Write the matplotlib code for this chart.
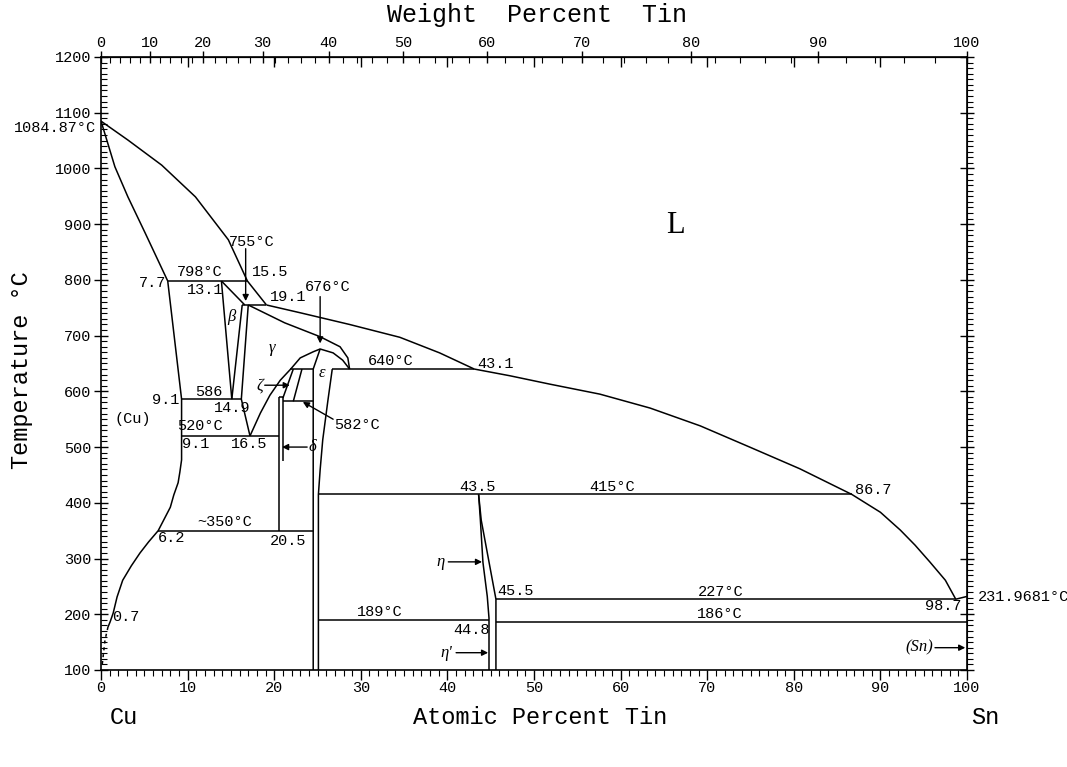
import numpy as np
import matplotlib
matplotlib.use("Agg")
import matplotlib.pyplot as plt

plt.rcParams['font.family'] = ['Liberation Mono', 'DejaVu Sans Mono', 'DejaVu Sans']

# molar masses for the weight percent scale
M_CU = 63.546
M_SN = 118.71

# ---- boundaries (atomic % Sn, temperature in C) ----
liq_cu_x = [0, 3.1, 7.0, 10.9, 14.7, 16.9, 19.1]
liq_cu_T = [1084.87, 1051, 1006, 949, 872, 798, 755]

sol_cu_x = [0, 1.6, 3.1, 5.1, 7.7]
sol_cu_T = [1084.87, 1003, 949, 884, 798]

cu_solvus_x = [7.7, 9.3, 9.3, 9.3, 9.1, 8.9, 8.4, 8.0, 7.3, 6.6, 5.5, 4.5, 3.5,
               2.5, 1.85, 1.4, 1.04, 0.8]
cu_solvus_T = [798, 586, 520, 477, 455, 436, 414, 392, 371, 350, 330, 310, 287,
               261, 231, 202, 186, 177]
cu_solvus_dash_x = [0.8, 0.46, 0.23, 0.1]
cu_solvus_dash_T = [177, 154, 123, 104]

beta_left_x = [13.9, 15.1]
beta_left_T = [798, 586]
beta_top_x = [13.9, 16.6]
beta_top_T = [798, 755]
beta_right_x = [16.3, 15.1]
beta_right_T = [755, 586]

gamma_left_x = [17.0, 16.2, 17.2]
gamma_left_T = [755, 586, 520]
gamma_sol_x = [17.0, 21.2, 25.3, 27.6, 28.5, 28.7]
gamma_sol_T = [755, 723, 698, 680, 660, 640]
gamma_right_x = [17.2, 18.4, 19.5, 20.7, 21.9, 23.0, 24.5, 25.3, 26.8, 27.9, 28.7]
gamma_right_T = [520, 561, 593, 620, 640, 660, 671, 676, 669, 656, 640]

eps_left_x = [25.3, 24.5, 24.5]
eps_left_T = [676, 640, 100]
eps_right_x = [26.7, 26.2, 25.6, 25.3, 25.1, 25.1]
eps_right_T = [640, 584, 513, 459, 415, 100]

zeta_a_x = [22.2, 21.0]
zeta_a_T = [640, 588]
zeta_b_x = [23.2, 22.2]
zeta_b_T = [640, 582]

delta_a_x = [20.6, 20.6]
delta_a_T = [590, 350]
delta_b_x = [20.6, 21.0, 21.0]
delta_b_T = [590, 590, 475]

eta_left_x = [43.6, 43.8, 44.1, 44.6, 44.8, 44.8]
eta_left_T = [415, 370, 293, 232, 193, 100]
eta_right_x = [43.6, 43.9, 45.6, 45.6]
eta_right_T = [415, 369, 227, 100]

liq_sn_x = [19.1, 23.0, 28.7, 34.5, 39.1, 43.1, 47.2, 51.8, 57.6, 63.4, 69.2,
            74.9, 80.7, 86.7, 90.0, 92.3, 94.0, 95.7, 97.5, 98.7]
liq_sn_T = [755, 741, 720, 697, 669, 640, 628, 613, 595, 570, 538,
            500, 461, 415, 383, 351, 324, 294, 261, 227]
sn_sol_x = [98.7, 100]
sn_sol_T = [227, 231.97]

# isotherms
iso_T = [798, 755, 640, 640, 586, 582, 520, 415, 350, 227, 189, 186]
iso_x0 = [7.7, 16.3, 21.8, 26.7, 9.3, 21.0, 9.3, 25.1, 6.6, 45.6, 25.1, 45.6]
iso_x1 = [16.9, 19.1, 24.5, 43.1, 16.2, 24.5, 20.6, 86.7, 24.5, 98.7, 44.8, 100]

# numeric labels: text, x, T, horizontal alignment
num_labels = [
    ("7.7", 7.5, 794, "right"), ("798°C", 11.4, 814, "center"),
    ("13.1", 12.0, 782, "center"), ("15.5", 17.4, 814, "left"),
    ("19.1", 19.5, 769, "left"), ("676°C", 26.2, 787, "center"),
    ("755°C", 17.4, 868, "center"), ("9.1", 9.1, 585, "right"),
    ("586", 12.4, 599, "center"), ("14.9", 15.1, 570, "center"),
    ("520°C", 11.4, 538, "center"), ("9.1", 9.35, 505, "left"),
    ("16.5", 17.1, 505, "center"), ("582°C", 26.9, 540, "left"),
    ("640°C", 33.4, 655, "center"), ("43.1", 43.5, 649, "left"),
    ("43.5", 43.5, 428, "center"), ("415°C", 59.0, 428, "center"),
    ("86.7", 87.1, 423, "left"), ("~350°C", 14.3, 366, "center"),
    ("6.2", 6.6, 337, "left"), ("20.5", 21.6, 331, "center"),
    ("0.7", 1.3, 195, "left"), ("45.5", 45.8, 242, "left"),
    ("227°C", 71.5, 240, "center"), ("98.7", 99.4, 215, "right"),
    ("189°C", 32.2, 204, "center"), ("186°C", 71.5, 200, "center"),
    ("44.8", 42.8, 172, "center"), ("(Cu)", 3.7, 550, "center"),
    ("1084.87°C", -0.6, 1073, "right"), ("231.9681°C", 101.2, 231, "left"),
]

# phase labels (greek)
phase_labels = [("β", 15.0, 733), ("γ", 19.7, 678), ("ε", 25.5, 633)]

# labelled arrows: text, text x, text T, alignment, tail (x, T), head (x, T)
arrows = [
    ("ζ", 18.7, 611, "right", (18.9, 611), (21.8, 611)),
    ("δ", 24.0, 500, "left", (23.8, 500), (20.9, 500)),
    ("η", 39.7, 294, "right", (40.1, 294), (44.0, 294)),
    ("η'", 40.6, 131, "right", (41.0, 131), (44.7, 131)),
    ("(Sn)", 96.1, 140, "right", (96.3, 140), (99.8, 140)),
]
plain_arrows = [((16.7, 856), (16.7, 762)), ((25.3, 770), (25.3, 686)),
                ((26.8, 550), (23.3, 581))]


def at2wt(a):
    a = np.clip(np.asarray(a, dtype=float), 0, 100)
    return 100 * a * M_SN / (a * M_SN + (100 - a) * M_CU)


def wt2at(w):
    w = np.clip(np.asarray(w, dtype=float), 0, 100)
    return 100 * (w / M_SN) / (w / M_SN + (100 - w) / M_CU)


fig = plt.figure(figsize=(10.67, 7.67), dpi=100)
ax = fig.add_axes([0.0947, 0.1265, 0.8116, 0.7992])
ax.set_xlim(0, 100)
ax.set_ylim(100, 1200)

lw = 1.1
kw = dict(color="black", lw=lw, solid_capstyle="butt", solid_joinstyle="round")
for xs, ts in [(liq_cu_x, liq_cu_T), (sol_cu_x, sol_cu_T), (cu_solvus_x, cu_solvus_T),
               (beta_left_x, beta_left_T), (beta_top_x, beta_top_T),
               (beta_right_x, beta_right_T), (gamma_left_x, gamma_left_T),
               (gamma_sol_x, gamma_sol_T), (gamma_right_x, gamma_right_T),
               (eps_left_x, eps_left_T), (eps_right_x, eps_right_T),
               (zeta_a_x, zeta_a_T), (zeta_b_x, zeta_b_T),
               (delta_a_x, delta_a_T), (delta_b_x, delta_b_T),
               (eta_left_x, eta_left_T), (eta_right_x, eta_right_T),
               (liq_sn_x, liq_sn_T), (sn_sol_x, sn_sol_T)]:
    ax.plot(xs, ts, **kw)
ax.plot(cu_solvus_dash_x, cu_solvus_dash_T, color="black", lw=lw, ls=(0, (2, 2.5)))

for t, x0, x1 in zip(iso_T, iso_x0, iso_x1):
    ax.plot([x0, x1], [t, t], **kw)

for txt, x, t, ha in num_labels:
    ax.text(x, t, txt, ha=ha, va="center", fontsize=11, clip_on=False)

for txt, x, t in phase_labels:
    ax.text(x, t, txt, ha="center", va="center", fontsize=12,
            family=["Liberation Serif", "DejaVu Serif"], style="italic")

ax.text(66.3, 898, "L", ha="center", va="center", fontsize=22,
        family=["Liberation Serif", "DejaVu Serif"])

aprops = dict(arrowstyle="-|>", color="black", lw=1.0, mutation_scale=9,
              shrinkA=0, shrinkB=0)
for txt, x, t, ha, tail, head in arrows:
    ax.text(x, t, txt, ha=ha, va="center", fontsize=12,
            family=["Liberation Serif", "DejaVu Serif"], style="italic")
    ax.annotate("", xy=head, xytext=tail, arrowprops=aprops)
for tail, head in plain_arrows:
    ax.annotate("", xy=head, xytext=tail, arrowprops=aprops)

# ---- axes and ticks ----
ax.set_xticks(range(0, 101, 10))
ax.set_xticks(range(0, 101, 1), minor=True)
ax.set_yticks(range(100, 1201, 100))
ax.set_yticks(range(100, 1201, 10), minor=True)
ax.tick_params(axis="x", which="major", direction="out", length=7, width=1,
               labelsize=11, pad=1)
ax.tick_params(axis="x", which="minor", direction="out", length=4, width=0.8)
ax.tick_params(axis="y", which="major", direction="inout", length=10, width=1,
               labelsize=11, pad=2)
ax.tick_params(axis="y", which="minor", direction="in", length=4, width=0.8)
for sp in ax.spines.values():
    sp.set_linewidth(1.2)

sec_wt = ax.secondary_xaxis("top", functions=(at2wt, wt2at))
sec_wt.set_xticks(range(0, 101, 10))
sec_wt.set_xticks(range(0, 101, 2), minor=True)
sec_wt.tick_params(which="major", direction="inout", length=8, width=1,
                   labelsize=11, pad=1)
sec_wt.tick_params(which="minor", direction="in", length=4, width=0.8)

sec_at = ax.secondary_xaxis("top")
sec_at.set_xticks(range(10, 100, 10))
sec_at.set_xticks([], minor=True)
sec_at.tick_params(which="major", direction="in", length=7, width=1, labeltop=False)

sec_r = ax.secondary_yaxis("right")
sec_r.set_yticks(range(100, 1201, 100))
sec_r.set_yticks(range(100, 1201, 10), minor=True)
sec_r.tick_params(which="major", direction="inout", length=10, width=1, labelright=False)
sec_r.tick_params(which="minor", direction="out", length=4, width=0.8)

fig.text(0.503, 0.980, "Weight  Percent  Tin", ha="center", va="center", fontsize=18)
fig.text(0.506, 0.065, "Atomic Percent Tin", ha="center", va="center", fontsize=17)
fig.text(0.116, 0.064, "Cu", ha="center", va="center", fontsize=17)
fig.text(0.923, 0.064, "Sn", ha="center", va="center", fontsize=17)
fig.text(0.0206, 0.518, "Temperature °C", ha="center", va="center", fontsize=17,
         rotation=90)

fig.savefig("out.png", dpi=100)
